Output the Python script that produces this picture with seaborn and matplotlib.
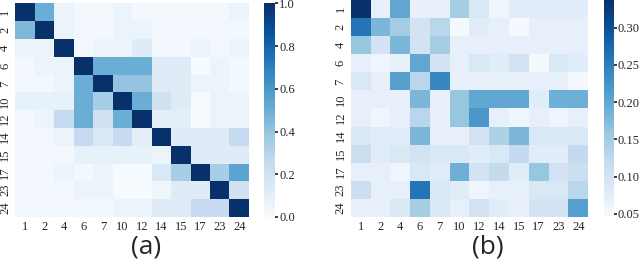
import numpy as np
import pandas as pd
import matplotlib
matplotlib.use("Agg")
import matplotlib.pyplot as plt
import seaborn as sns

sns.set_theme(style="white")
plt.rcParams['font.family'] = ['Liberation Serif', 'DejaVu Serif']

# channel labels
labels = ['1', '2', '4', '6', '7', '10', '12', '14', '15', '17', '23', '24']

# (a) correlation-like matrix
corr_a = [
    [1.00, 0.50, 0.06, 0.02, 0.02, 0.06, 0.02, 0.02, 0.02, 0.02, 0.02, 0.06],
    [0.45, 1.00, 0.06, 0.02, 0.02, 0.06, 0.06, 0.02, 0.02, 0.02, 0.02, 0.02],
    [0.06, 0.06, 1.00, 0.02, 0.06, 0.06, 0.12, 0.02, 0.02, 0.06, 0.02, 0.06],
    [0.02, 0.06, 0.06, 1.00, 0.50, 0.50, 0.50, 0.12, 0.12, 0.01, 0.06, 0.02],
    [0.02, 0.02, 0.06, 0.50, 1.00, 0.40, 0.40, 0.12, 0.12, 0.06, 0.06, 0.02],
    [0.08, 0.08, 0.08, 0.50, 0.35, 1.00, 0.50, 0.20, 0.12, 0.01, 0.06, 0.06],
    [0.02, 0.06, 0.25, 0.50, 0.20, 0.50, 1.00, 0.10, 0.10, 0.01, 0.06, 0.06],
    [0.02, 0.02, 0.06, 0.25, 0.15, 0.25, 0.10, 1.00, 0.12, 0.12, 0.12, 0.25],
    [0.02, 0.02, 0.02, 0.08, 0.08, 0.08, 0.08, 0.06, 1.00, 0.12, 0.12, 0.12],
    [0.02, 0.02, 0.06, 0.02, 0.06, 0.01, 0.01, 0.15, 0.35, 1.00, 0.35, 0.55],
    [0.02, 0.02, 0.02, 0.06, 0.06, 0.01, 0.01, 0.04, 0.12, 0.12, 1.00, 0.20],
    [0.02, 0.02, 0.02, 0.02, 0.02, 0.06, 0.06, 0.12, 0.12, 0.25, 0.25, 1.00],
]

# (b) second matrix
corr_b = [
    [0.34, 0.07, 0.20, 0.07, 0.07, 0.15, 0.09, 0.06, 0.08, 0.08, 0.08, 0.08],
    [0.26, 0.18, 0.15, 0.10, 0.13, 0.05, 0.08, 0.07, 0.05, 0.07, 0.07, 0.07],
    [0.16, 0.10, 0.18, 0.10, 0.15, 0.07, 0.07, 0.07, 0.07, 0.07, 0.07, 0.07],
    [0.07, 0.06, 0.07, 0.20, 0.10, 0.07, 0.09, 0.08, 0.10, 0.05, 0.09, 0.08],
    [0.09, 0.07, 0.21, 0.13, 0.24, 0.07, 0.07, 0.07, 0.07, 0.07, 0.07, 0.05],
    [0.07, 0.07, 0.07, 0.18, 0.07, 0.16, 0.20, 0.20, 0.20, 0.08, 0.19, 0.19],
    [0.07, 0.06, 0.07, 0.13, 0.07, 0.16, 0.22, 0.07, 0.06, 0.07, 0.06, 0.07],
    [0.09, 0.08, 0.08, 0.18, 0.07, 0.07, 0.10, 0.14, 0.18, 0.09, 0.09, 0.09],
    [0.11, 0.08, 0.09, 0.10, 0.09, 0.09, 0.08, 0.09, 0.12, 0.08, 0.08, 0.12],
    [0.07, 0.07, 0.06, 0.09, 0.08, 0.19, 0.10, 0.12, 0.08, 0.16, 0.10, 0.11],
    [0.11, 0.07, 0.07, 0.26, 0.09, 0.08, 0.06, 0.07, 0.07, 0.09, 0.09, 0.13],
    [0.07, 0.07, 0.09, 0.15, 0.09, 0.07, 0.10, 0.08, 0.07, 0.10, 0.10, 0.21],
]

df_a = pd.DataFrame(corr_a, index=labels, columns=labels)
df_b = pd.DataFrame(corr_b, index=labels, columns=labels)

fig = plt.figure(figsize=(6.4, 2.62), dpi=100)
ax_a = fig.add_axes([0.024, 0.172, 0.365, 0.815])
cax_a = fig.add_axes([0.413, 0.172, 0.017, 0.815])
ax_b = fig.add_axes([0.548, 0.172, 0.371, 0.828])
cax_b = fig.add_axes([0.944, 0.172, 0.015, 0.828])

sns.heatmap(df_a, ax=ax_a, cbar_ax=cax_a, cmap='Blues', vmin=0, vmax=1)
sns.heatmap(df_b, ax=ax_b, cbar_ax=cax_b, cmap='Blues', vmin=0.046, vmax=0.337)

for ax in (ax_a, ax_b):
    ax.tick_params(axis='x', labelsize=9, rotation=0, length=2, pad=1)
    ax.tick_params(axis='y', labelsize=9, rotation=90, length=2, pad=1)
    for t in ax.get_yticklabels():
        t.set_va('center')

cax_a.set_yticks([0.0, 0.2, 0.4, 0.6, 0.8, 1.0])
cax_b.set_yticks([0.05, 0.10, 0.15, 0.20, 0.25, 0.30])
for cax in (cax_a, cax_b):
    cax.tick_params(labelsize=9, length=2, pad=1)
    for s in cax.spines.values():
        s.set_visible(False)

fig.text(0.229, 0.058, '(a)', ha='center', va='center', fontsize=19,
         family=['Open Sans', 'DejaVu Sans'])
fig.text(0.762, 0.058, '(b)', ha='center', va='center', fontsize=19,
         family=['Open Sans', 'DejaVu Sans'])

fig.savefig('out.png', dpi=100)
